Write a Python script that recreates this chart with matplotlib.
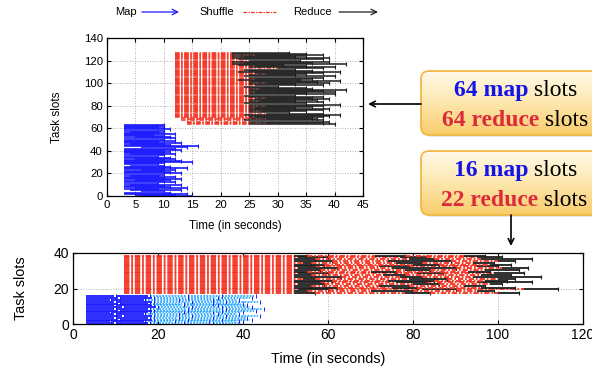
import numpy as np
import matplotlib.pyplot as plt
from matplotlib.patches import FancyBboxPatch
from matplotlib.colors import LinearSegmentedColormap

plt.rcParams['font.family'] = ['Liberation Sans', 'DejaVu Sans']

# ---- top chart: 64 map slots + 64 reduce slots ----
map_start = [6, 5, 3, 3, 6, 4, 3, 5, 3, 3, 4, 3, 3, 3, 5, 3,
             3, 3, 4, 3, 3, 3, 3, 6, 3, 3, 3, 4, 3, 3, 3, 3,
             3, 5, 3, 3, 3, 4, 3, 3, 3, 3, 3, 6, 3, 3, 4, 3,
             3, 3, 3, 3, 5, 3, 3, 3, 3, 4, 3, 3, 3, 3, 3, 3]
map_end = [15, 12, 14, 11, 10, 13, 9, 14, 11, 10, 13, 9, 12, 10, 11, 13,
           10, 12, 9, 10, 13, 11, 10, 12, 10, 14, 11, 10, 9, 10, 15, 13,
           10, 12, 11, 9, 10, 12, 10, 11, 10, 13, 12, 14, 16, 11, 10, 13,
           9, 12, 10, 12, 11, 10, 8, 12, 10, 9, 10, 11, 10, 9, 10, 10]
shuffle_start = [14, 14, 14, 13, 14, 13, 12, 12, 12, 12, 12, 12, 12, 12, 12, 12,
                 12, 12, 12, 12, 12, 12, 12, 12, 12, 12, 12, 12, 12, 12, 12, 12,
                 12, 12, 12, 12, 12, 12, 12, 12, 12, 12, 12, 12, 12, 12, 12, 12,
                 12, 12, 12, 12, 12, 12, 12, 12, 12, 12, 12, 12, 12, 12, 12, 12]
shuffle_end = [25, 28, 25, 24, 28, 25, 26, 25, 24, 28, 25, 27, 25, 25, 26, 25,
               28, 25, 24, 25, 27, 25, 26, 28, 25, 24, 25, 25, 26, 25, 25, 27,
               25, 24, 26, 25, 28, 25, 25, 23, 26, 25, 24, 25, 28, 26, 23, 25,
               24, 30, 25, 26, 23, 22, 24, 22, 25, 23, 22, 24, 22, 26, 22, 22]
reduce_end = [40, 38, 39, 38, 37, 36, 38, 39, 41, 38, 32, 35, 38, 39, 33, 36,
              38, 41, 35, 38, 33, 37, 39, 36, 38, 33, 40, 35, 40, 38, 42, 36,
              35, 30, 38, 33, 39, 37, 41, 34, 36, 38, 40, 33, 35, 38, 41, 36,
              33, 38, 40, 35, 31, 42, 36, 39, 34, 38, 39, 33, 35, 38, 35, 32]

# ---- bottom chart: 16 map slots + 22 reduce slots, several waves ----
# map: task boundaries per slot (first two tasks dark, later ones light)
bmap_times = [
    [3, 10, 18, 26, 33, 40], [3, 9, 17, 24, 32, 39], [3, 11, 19, 27, 35, 42],
    [3, 10, 18, 25, 33, 41], [3, 12, 19, 28, 36, 44], [3, 10, 17, 25, 34, 39],
    [3, 9, 18, 26, 33, 40], [3, 11, 19, 27, 35, 43], [3, 10, 18, 27, 36, 45],
    [3, 12, 20, 28, 35, 42], [3, 10, 19, 26, 34, 41], [3, 11, 18, 26, 33, 40],
    [3, 10, 19, 28, 36, 44], [3, 9, 17, 25, 33, 39], [3, 11, 19, 27, 34, 42],
    [3, 10, 18, 27, 35, 43]]
# reduce: shuffle start, then (shuffle end, reduce end) for each wave
bred_times = [
    [12, 52, 57, 78, 84, 100, 105], [12, 52, 55, 70, 80, 95, 99],
    [12, 53, 60, 82, 90, 106, 114], [12, 52, 62, 75, 81, 96, 104],
    [12, 52, 56, 72, 79, 92, 97], [12, 53, 59, 80, 86, 98, 101],
    [12, 52, 58, 76, 83, 95, 108], [12, 52, 61, 74, 85, 97, 102],
    [12, 54, 57, 79, 88, 100, 104], [12, 52, 63, 77, 82, 94, 110],
    [12, 52, 56, 73, 78, 96, 103], [12, 53, 60, 81, 87, 99, 106],
    [12, 52, 55, 70, 76, 93, 98], [12, 52, 58, 78, 84, 97, 105],
    [12, 53, 62, 75, 90, 101, 107], [12, 52, 57, 72, 79, 95, 100],
    [12, 52, 59, 80, 86, 98, 103], [12, 54, 56, 76, 82, 94, 99],
    [12, 52, 61, 74, 89, 100, 104], [12, 52, 57, 79, 85, 96, 108],
    [12, 53, 60, 77, 83, 95, 101], [12, 52, 55, 71, 78, 92, 97]]

BLUE = '#1a1aff'
LBLUE = '#2aa8ff'
RED = '#f5301e'
BLACK = '#1e1e1e'
DASH = (0, (3, 1, 1, 1))

fig = plt.figure(figsize=(5.92, 3.7), dpi=100)


def style(ax, fs):
    ax.tick_params(direction='in', top=True, right=True, length=3, labelsize=fs, pad=3)
    for s in ax.spines.values():
        s.set_linewidth(0.9)
    ax.grid(True, ls=(0, (1, 2)), color='#999999', lw=0.6)
    ax.set_axisbelow(True)


# top chart
ax1 = fig.add_axes([107 / 592, 1 - 196 / 370, 256 / 592, 158 / 370])
ym = np.arange(len(map_end))
ax1.hlines(ym, map_start, map_end, color=BLUE, lw=1.2)
ax1.plot(map_end, ym, '|', color=BLUE, ms=3.5, mew=0.8)
yr = np.arange(len(reduce_end)) + 64
ax1.hlines(yr, shuffle_start, shuffle_end, color=RED, lw=1.1, linestyles=[DASH])
ax1.hlines(yr, shuffle_end, reduce_end, color=BLACK, lw=1.1)
ax1.plot(reduce_end, yr, '|', color=BLACK, ms=3.5, mew=0.8)
ax1.set_xlim(0, 45)
ax1.set_ylim(0, 140)
ax1.set_xticks(range(0, 46, 5))
ax1.set_yticks(range(0, 141, 20))
style(ax1, 8.2)
ax1.set_xlabel('Time (in seconds)', fontsize=8.4)
ax1.set_ylabel('Task slots', fontsize=8.4)
ax1.xaxis.set_label_coords(0.5, -0.155)
ax1.yaxis.set_label_coords(-0.17, 0.5)

# bottom chart
ax2 = fig.add_axes([73 / 592, 1 - 324 / 370, 510 / 592, 71 / 370])
for i, t in enumerate(bmap_times):
    y = i + 0.5
    for k in range(len(t) - 1):
        if k < 2:
            ax2.hlines(y, t[k], t[k + 1] - 0.4, color=BLUE, lw=1.3)
        else:
            ax2.hlines(y, t[k], t[k + 1] - 0.4, color=LBLUE, lw=1.3,
                       linestyles=[(0, (1, 0.7))])
    ax2.plot(t[1:], [y] * (len(t) - 1), '|', color=BLUE, ms=3, mew=0.7)
for i, t in enumerate(bred_times):
    y = i + 17.5
    for k in range(1, len(t), 2):
        ax2.hlines(y, t[k - 1], t[k], color=RED, lw=1.3, linestyles=[DASH])
        ax2.hlines(y, t[k], t[k + 1], color=BLACK, lw=1.3)
        ax2.plot(t[k + 1], y, '|', color=BLACK, ms=3.5, mew=0.8)
ax2.set_xlim(0, 120)
ax2.set_ylim(0, 40)
ax2.set_xticks(range(0, 121, 20))
ax2.set_yticks([0, 20, 40])
style(ax2, 10)
ax2.set_xlabel('Time (in seconds)', fontsize=10.4)
ax2.set_ylabel('Task slots', fontsize=10.4)
ax2.xaxis.set_label_coords(0.5, -0.39)
ax2.yaxis.set_label_coords(-0.088, 0.5)

# overlay in pixel coordinates for legend, callout boxes, arrows
ov = fig.add_axes([0, 0, 1, 1], zorder=10)
ov.patch.set_alpha(0)
ov.axis('off')

# legend
ov.text(115, 12, 'Map', fontsize=8, va='center', ha='left')
ov.annotate('', xy=(179, 12), xytext=(142, 12),
            arrowprops=dict(arrowstyle='->', color=BLUE, lw=0.9, shrinkA=0, shrinkB=0))
ov.text(199, 12, 'Shuffle', fontsize=8, va='center', ha='left')
ov.plot([243, 276], [12, 12], color=RED, lw=0.9, ls=DASH)
ov.text(293, 12, 'Reduce', fontsize=8, va='center', ha='left')
ov.annotate('', xy=(378, 12), xytext=(339, 12),
            arrowprops=dict(arrowstyle='->', color=BLACK, lw=0.9, shrinkA=0, shrinkB=0))

# callout boxes
cmap = LinearSegmentedColormap.from_list('box', ['#fffaeb', '#fde7ad', '#f9cc6a'])
grad = np.linspace(0, 1, 100).reshape(-1, 1)
boxes = [(421, 71), (421, 151)]
for bx, by in boxes:
    w, h = 190, 64
    shadow = FancyBboxPatch((bx + 2, by + 2), w, h, boxstyle='round,pad=0,rounding_size=8',
                            fc='#d9d0c0', ec='none', alpha=0.5)
    ov.add_patch(shadow)
    patch = FancyBboxPatch((bx, by), w, h, boxstyle='round,pad=0,rounding_size=8',
                           fc='none', ec='#f0b845', lw=1.3)
    ov.add_patch(patch)
    im = ov.imshow(grad, extent=(bx, bx + w, by + h, by), cmap=cmap, aspect='auto',
                   zorder=1)
    im.set_clip_path(patch)
    patch.set_zorder(2)

ov.set_xlim(0, 592)
ov.set_ylim(370, 0)

fig.canvas.draw()
rend = fig.canvas.get_renderer()
inv = ov.transData.inverted()


def two_tone(x, y, bold, color):
    t1 = ov.text(x, y, bold, fontsize=17, family='Liberation Serif', weight='bold',
                 color=color, va='baseline', ha='left', zorder=5)
    bb = t1.get_window_extent(rend)
    x1 = inv.transform((bb.x1, bb.y0))[0]
    ov.text(x1, y, ' slots', fontsize=17, family='Liberation Serif', color='black',
            va='baseline', ha='left', zorder=5)


two_tone(454, 96, '64 map', '#1414e6')
two_tone(442, 126, '64 reduce', '#dc2a3c')
two_tone(454, 176, '16 map', '#1414e6')
two_tone(441, 206, '22 reduce', '#dc2a3c')

ov.annotate('', xy=(368, 104), xytext=(421, 104),
            arrowprops=dict(arrowstyle='->', color='black', lw=1.2, shrinkA=0, shrinkB=0))
ov.annotate('', xy=(511, 246), xytext=(511, 215),
            arrowprops=dict(arrowstyle='->', color='black', lw=1.2, shrinkA=0, shrinkB=0))

fig.savefig('out.png', dpi=100)
